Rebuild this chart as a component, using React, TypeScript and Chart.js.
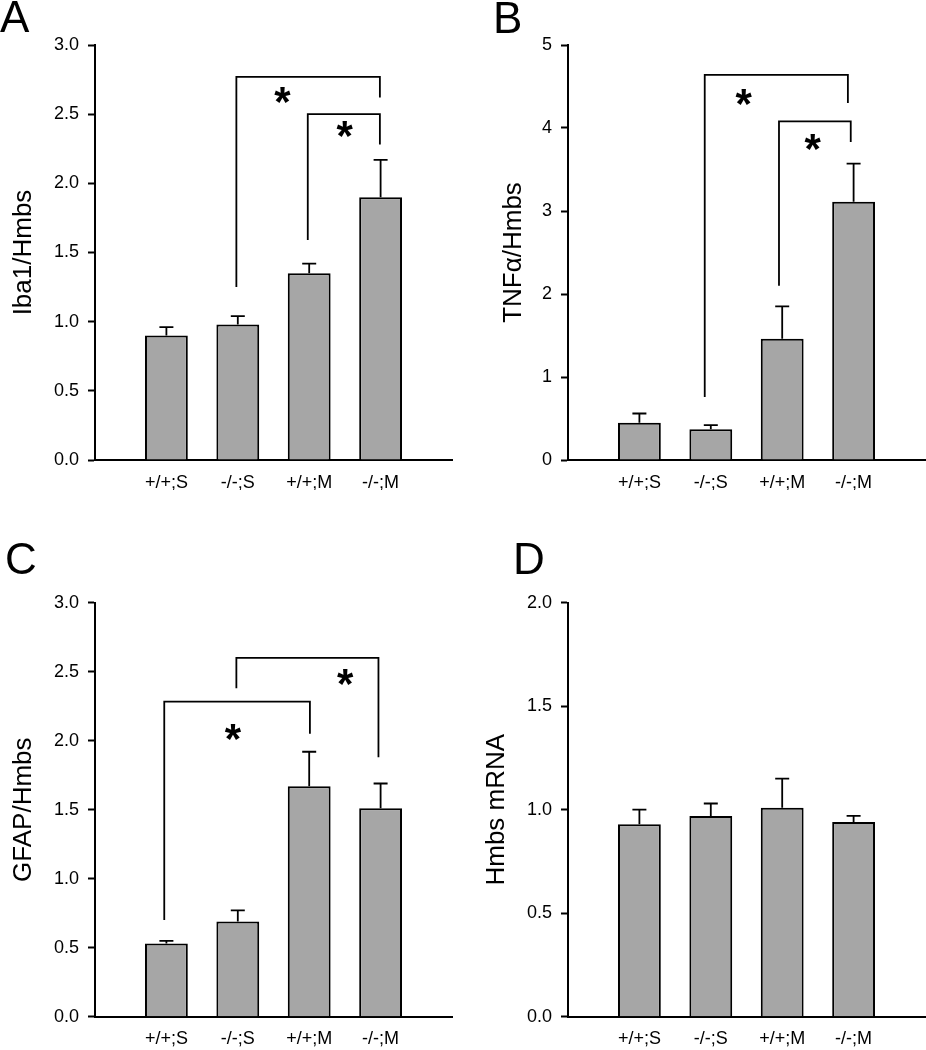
import React, { useEffect, useRef } from 'react';
import { Chart, registerables } from 'chart.js';

Chart.register(...registerables);

const FONT = "'Liberation Sans', Arial, Helvetica, sans-serif";

// ---- shared categories ----
const groupLabels = ['+/+;S', '-/-;S', '+/+;M', '-/-;M'];
const groupPositions = [1, 2, 3, 4];
const xTickValues = [0, 1, 2, 3, 4, 5];

// ---- Panel A: Iba1/Hmbs ----
const iba1Means = [0.9, 0.98, 1.35, 1.9];
const iba1Sem = [0.06, 0.06, 0.07, 0.27];
const iba1YTicks = [0, 0.5, 1.0, 1.5, 2.0, 2.5, 3.0];
const iba1Brackets = [
  { from: 1.98, to: 3.99, top: 2.77, fromEnd: 1.25, toEnd: 2.62 },
  { from: 2.98, to: 3.99, top: 2.5, fromEnd: 1.59, toEnd: 2.28 },
];
const iba1Stars = [
  { x: 2.63, y: 2.64 },
  { x: 3.5, y: 2.39 },
];

// ---- Panel B: TNFα/Hmbs ----
const tnfMeans = [0.45, 0.37, 1.46, 3.11];
const tnfSem = [0.11, 0.05, 0.39, 0.46];
const tnfYTicks = [0, 1, 2, 3, 4, 5];
const tnfBrackets = [
  { from: 1.915, to: 3.92, top: 4.64, fromEnd: 0.76, toEnd: 4.3 },
  { from: 2.955, to: 3.96, top: 4.08, fromEnd: 2.1, toEnd: 3.83 },
];
const tnfStars = [
  { x: 2.465, y: 4.37 },
  { x: 3.43, y: 3.83 },
];

// ---- Panel C: GFAP/Hmbs ----
const gfapMeans = [0.53, 0.69, 1.67, 1.51];
const gfapSem = [0.02, 0.08, 0.25, 0.18];
const gfapYTicks = [0, 0.5, 1.0, 1.5, 2.0, 2.5, 3.0];
const gfapBrackets = [
  { from: 0.97, to: 3.01, top: 2.283, fromEnd: 0.7, toEnd: 2.05 },
  { from: 1.98, to: 3.97, top: 2.6, fromEnd: 2.38, toEnd: 1.88 },
];
const gfapStars = [
  { x: 1.935, y: 2.065 },
  { x: 3.51, y: 2.465 },
];

// ---- Panel D: Hmbs mRNA ----
const hmbsMeans = [0.93, 0.97, 1.01, 0.94];
const hmbsSem = [0.07, 0.06, 0.14, 0.03];
const hmbsYTicks = [0, 0.5, 1.0, 1.5, 2.0];
const hmbsBrackets: any[] = [];
const hmbsStars: any[] = [];

type Panel = {
  letter: string;
  title: string;
  means: number[];
  sem: number[];
  yTicks: number[];
  decimals: number;
  brackets: any[];
  stars: any[];
  left: number;
  top: number;
  yAxisWidth: number;
  padTop: number;
  padRight: number;
  padBottom: number;
  titleOffset: number;
  letterInk: { x: number; y: number };
};

const panels: Panel[] = [
  {
    letter: 'A', title: 'Iba1/Hmbs', means: iba1Means, sem: iba1Sem, yTicks: iba1YTicks, decimals: 1,
    brackets: iba1Brackets, stars: iba1Stars,
    left: 0, top: 0, yAxisWidth: 95, padTop: 45, padRight: 11, padBottom: 35, titleOffset: 8.5,
    letterInk: { x: 0, y: 1 },
  },
  {
    letter: 'B', title: 'TNFα/Hmbs', means: tnfMeans, sem: tnfSem, yTicks: tnfYTicks, decimals: 0,
    brackets: tnfBrackets, stars: tnfStars,
    left: 463, top: 0, yAxisWidth: 105, padTop: 45, padRight: 1, padBottom: 35, titleOffset: 35.5,
    letterInk: { x: 33, y: 2 },
  },
  {
    letter: 'C', title: 'GFAP/Hmbs', means: gfapMeans, sem: gfapSem, yTicks: gfapYTicks, decimals: 1,
    brackets: gfapBrackets, stars: gfapStars,
    left: 0, top: 525, yAxisWidth: 95, padTop: 77.7, padRight: 11, padBottom: 3.3, titleOffset: 8.5,
    letterInk: { x: 7, y: 18 },
  },
  {
    letter: 'D', title: 'Hmbs mRNA', means: hmbsMeans, sem: hmbsSem, yTicks: hmbsYTicks, decimals: 1,
    brackets: hmbsBrackets, stars: hmbsStars,
    left: 463, top: 525, yAxisWidth: 105, padTop: 77.7, padRight: 1, padBottom: 3.3, titleOffset: 18.5,
    letterInk: { x: 53, y: 18 },
  },
];

const extrasPlugin = {
  id: 'panelExtras',
  afterDatasetsDraw(chart: any, _args: any, opts: any) {
    const { ctx } = chart;
    const xs = chart.scales.x;
    const ys = chart.scales.y;
    const meta = chart.getDatasetMeta(0);
    ctx.save();
    ctx.strokeStyle = '#000';
    ctx.lineWidth = 1.8;
    ctx.lineCap = 'butt';
    meta.data.forEach((bar: any, i: number) => {
      const mean = opts.means[i];
      const err = opts.sem[i];
      const y0 = ys.getPixelForValue(mean);
      const y1 = ys.getPixelForValue(mean + err);
      const x = bar.x;
      ctx.beginPath();
      ctx.moveTo(x, y0);
      ctx.lineTo(x, y1);
      ctx.moveTo(x - 7, y1);
      ctx.lineTo(x + 7, y1);
      ctx.stroke();
    });
    ctx.fillStyle = '#000';
    ctx.font = `bold 42px ${FONT}`;
    ctx.textAlign = 'left';
    ctx.textBaseline = 'alphabetic';
    const m = ctx.measureText('*');
    opts.stars.forEach((s: any) => {
      const cx = xs.getPixelForValue(s.x);
      const cy = ys.getPixelForValue(s.y);
      ctx.fillText(
        '*',
        cx - (m.actualBoundingBoxRight - m.actualBoundingBoxLeft) / 2,
        cy + (m.actualBoundingBoxAscent - m.actualBoundingBoxDescent) / 2
      );
    });
    ctx.restore();
  },
  afterDraw(chart: any, _args: any, opts: any) {
    const { ctx } = chart;
    ctx.save();
    ctx.fillStyle = '#000';
    ctx.font = `44px ${FONT}`;
    ctx.textAlign = 'left';
    ctx.textBaseline = 'alphabetic';
    const m = ctx.measureText(opts.letter);
    ctx.fillText(opts.letter, opts.letterInk.x + m.actualBoundingBoxLeft, opts.letterInk.y + m.actualBoundingBoxAscent);
    ctx.restore();
  },
};

function buildConfig(p: Panel): any {
  const yMin = p.yTicks[0];
  const yMax = p.yTicks[p.yTicks.length - 1];
  return {
    type: 'bar',
    data: {
      datasets: [
        {
          type: 'bar',
          data: groupPositions.map((x, i) => ({ x, y: p.means[i] })),
          backgroundColor: '#a6a6a6',
          borderColor: '#000',
          borderWidth: 2,
          categoryPercentage: 0.6,
          barPercentage: 1,
          order: 1,
        },
        ...p.brackets.map((b) => ({
          type: 'line',
          data: [
            { x: b.from, y: b.fromEnd },
            { x: b.from, y: b.top },
            { x: b.to, y: b.top },
            { x: b.to, y: b.toEnd },
          ],
          borderColor: '#000',
          borderWidth: 1.8,
          pointRadius: 0,
          fill: false,
          tension: 0,
          order: 0,
        })),
      ],
    },
    options: {
      responsive: false,
      animation: false,
      devicePixelRatio: 1,
      layout: { padding: { left: 0, top: p.padTop, right: p.padRight, bottom: p.padBottom } },
      plugins: {
        legend: { display: false },
        tooltip: { enabled: false },
        panelExtras: {
          means: p.means,
          sem: p.sem,
          stars: p.stars,
          letter: p.letter,
          letterInk: p.letterInk,
        },
      },
      events: [],
      scales: {
        x: {
          type: 'linear',
          min: xTickValues[0],
          max: xTickValues[xTickValues.length - 1],
          offset: false,
          afterBuildTicks: (scale: any) => {
            scale.ticks = xTickValues.map((v) => ({ value: v }));
          },
          afterFit: (scale: any) => {
            scale.height = 30;
            scale.paddingLeft = 0;
            scale.paddingRight = 0;
          },
          grid: { display: false, drawTicks: false, offset: false },
          border: { display: true, color: '#000', width: 2 },
          ticks: {
            autoSkip: false,
            maxRotation: 0,
            padding: 12,
            color: '#000',
            font: { family: FONT, size: 18 },
            callback: (v: number) => {
              const idx = groupPositions.indexOf(v);
              return idx >= 0 ? groupLabels[idx] : '';
            },
          },
        },
        y: {
          type: 'linear',
          min: yMin,
          max: yMax,
          afterBuildTicks: (scale: any) => {
            scale.ticks = p.yTicks.map((v) => ({ value: v }));
          },
          afterFit: (scale: any) => {
            scale.width = p.yAxisWidth;
          },
          grid: {
            display: true,
            drawOnChartArea: false,
            drawTicks: true,
            tickLength: 7,
            tickWidth: 2,
            tickColor: '#000',
          },
          border: { display: true, color: '#000', width: 2 },
          ticks: {
            padding: 9,
            color: '#000',
            font: { family: FONT, size: 18 },
            callback: (v: number) => Number(v).toFixed(p.decimals),
          },
          title: {
            display: true,
            text: p.title,
            color: '#000',
            font: { family: FONT, size: 26 },
            padding: { top: p.titleOffset, bottom: 0 },
          },
        },
      },
    },
    plugins: [extrasPlugin],
  };
}

function PanelChart({ panel }: { panel: Panel }) {
  const ref = useRef<HTMLCanvasElement>(null);
  useEffect(() => {
    if (!ref.current) return;
    const chart = new Chart(ref.current, buildConfig(panel));
    return () => chart.destroy();
  }, [panel]);
  return (
    <div style={{ position: 'absolute', left: panel.left, top: panel.top, width: 463, height: 525 }}>
      <canvas ref={ref} width={463} height={525} style={{ display: 'block', width: 463, height: 525 }} />
    </div>
  );
}

export default function App() {
  return (
    <div style={{ position: 'absolute', left: 0, top: 0, width: 926, height: 1050, background: '#fff', overflow: 'hidden' }}>
      {panels.map((p) => (
        <PanelChart key={p.letter} panel={p} />
      ))}
    </div>
  );
}
